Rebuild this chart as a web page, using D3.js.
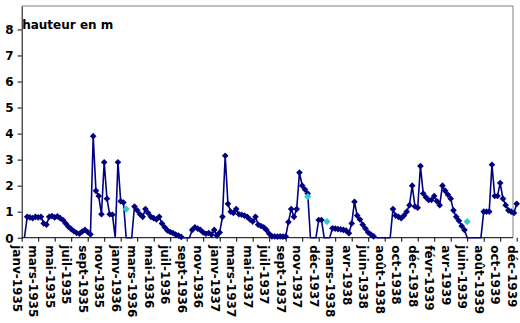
<!DOCTYPE html>
<html><head><meta charset="utf-8">
<script src="https://cdn.jsdelivr.net/npm/d3@7"></script>
<style>
body{margin:0;background:#fff}
svg{display:block}
text{font-family:"DejaVu Sans",Verdana,sans-serif;font-weight:bold;font-size:12px;fill:#000}
</style>
</head><body>
<svg id="c" width="520" height="323"></svg>
<script>
const monthLabels = ["janv-1935","mars-1935","mai-1935","juil-1935","sept-1935","nov-1935","janv-1936","mars-1936","mai-1936","juil-1936","sept-1936","nov-1936","janv-1937","mars-1937","mai-1937","juil-1937","sept-1937","nov-1937","déc-1937","mars-1938","avr-1938","juin-1938","août-1938","oct-1938","déc-1938","févr-1939","avr-1939","juin-1939","août-1939","oct-1939","déc-1939"];
const labelEvery = 6;
const heights = [null,0,0.8,0.78,0.75,0.8,0.78,0.8,0.55,0.5,
0.8,0.83,0.78,0.82,0.75,0.68,0.55,0.42,0.33,0.25,
0.18,0.15,0.24,0.3,0.22,0.13,3.9,1.8,1.6,0.9,
2.9,1.5,0.9,0.88,0,2.9,1.4,1.35,0,0,
0,1.2,1.05,0.9,0.8,1.1,0.95,0.8,0.75,0.7,
0.8,0.55,0.4,0.28,0.22,0.18,0.12,0.08,0.03,0,
0,0,0.3,0.4,0.35,0.3,0.2,0.15,0.18,0.12,
0.3,0.08,0.2,0.8,3.15,1.3,1.0,0.95,1.1,0.9,
0.88,0.85,0.8,0.7,0.62,0.8,0.5,0.45,0.4,0.3,
0.15,0.05,0.05,0.04,0.05,0.04,0.05,0.6,1.1,0.8,
1.1,2.5,2.0,1.85,1.7,0,0,0,0.68,0.68,
0,0,0,0.36,0.35,0.33,0.32,0.3,0.27,0.17,
0.55,1.38,0.85,0.7,0.5,0.35,0.2,0.12,0.05,0,
0,0,0,0,0,1.1,0.85,0.8,0.75,0.85,
1.0,1.25,2.0,1.2,1.15,2.75,1.7,1.55,1.45,1.45,
1.6,1.4,1.25,2.0,1.8,1.65,1.5,1.05,0.8,0.65,
0.45,0.3,0,0,0,0,0,0,1.0,1.0,
1.0,2.8,1.6,1.6,2.1,1.5,1.25,1.05,1.0,0.95,
1.3];
const cyanIndex = [38,104,111,162];
const cyanHeights = [1.1,1.58,0.62,0.62];
const yTicks = [0,1,2,3,4,5,6,7,8];
const yTitle = "hauteur en m";

const svg = d3.select("#c");
const plotL = 21.7, plotR = 513, plotT = 6, plotB = 237.7;
const x = d3.scaleLinear().domain([0, heights.length - 1]).range([plotL, 516.7]);
const y = d3.scaleLinear().domain([0, 8.9]).range([plotB, plotT]);

svg.append("path").attr("d", `M${plotL},${plotT}H${plotR}V${plotB}`)
  .attr("fill","none").attr("stroke","#808080").attr("stroke-width",1);

const gy = svg.append("g").attr("transform",`translate(${plotL},0)`)
  .call(d3.axisLeft(y).tickValues(yTicks).tickSize(4).tickSizeOuter(0).tickPadding(4).tickFormat(d3.format("d")));
gy.select(".domain").attr("stroke","#000");
gy.selectAll(".tick line").attr("stroke","#000");
gy.selectAll("text").attr("font-family",null).attr("font-size",null).attr("dy","0.36em");

const gx = svg.append("g").attr("transform",`translate(0,${plotB})`)
  .call(d3.axisBottom(x).tickValues(d3.range(0, heights.length, labelEvery))
    .tickFormat(i => monthLabels[i / labelEvery]).tickSize(4).tickSizeOuter(0));
gx.select(".domain").remove();
gx.selectAll(".tick line").attr("stroke","#000");
gx.selectAll("text").attr("font-family",null).attr("font-size",null)
  .attr("transform","rotate(90)").attr("text-anchor","start")
  .attr("x",7.5).attr("y",5).attr("dy","0.35em");
svg.append("line").attr("x1",plotL).attr("x2",plotR).attr("y1",plotB).attr("y2",plotB)
  .attr("stroke","#000").attr("stroke-width",1);

const line = d3.line().defined(d => d != null).x((d,i) => x(i)).y(d => y(d));
svg.append("path").datum(heights).attr("d", line)
  .attr("fill","none").attr("stroke","#000080").attr("stroke-width",1.6);

const diamond = d3.symbol(d3.symbolSquare, 22);
svg.append("g").selectAll("path")
  .data(heights.map((v,i) => ({v,i})).filter(d => d.v != null && d.v > 0))
  .join("path").attr("d", diamond)
  .attr("transform", d => `translate(${x(d.i)},${y(d.v)}) rotate(45)`)
  .attr("fill","#000080");

svg.append("g").selectAll("path")
  .data(cyanIndex.map((i,k) => ({i, v: cyanHeights[k]})))
  .join("path").attr("d", d3.symbol(d3.symbolSquare, 26))
  .attr("transform", d => `translate(${x(d.i)},${y(d.v)}) rotate(45)`)
  .attr("fill","#33CCCC");

svg.append("text").attr("x", plotL + 0.5).attr("y", 28.5).text(yTitle);
</script>
</body></html>
